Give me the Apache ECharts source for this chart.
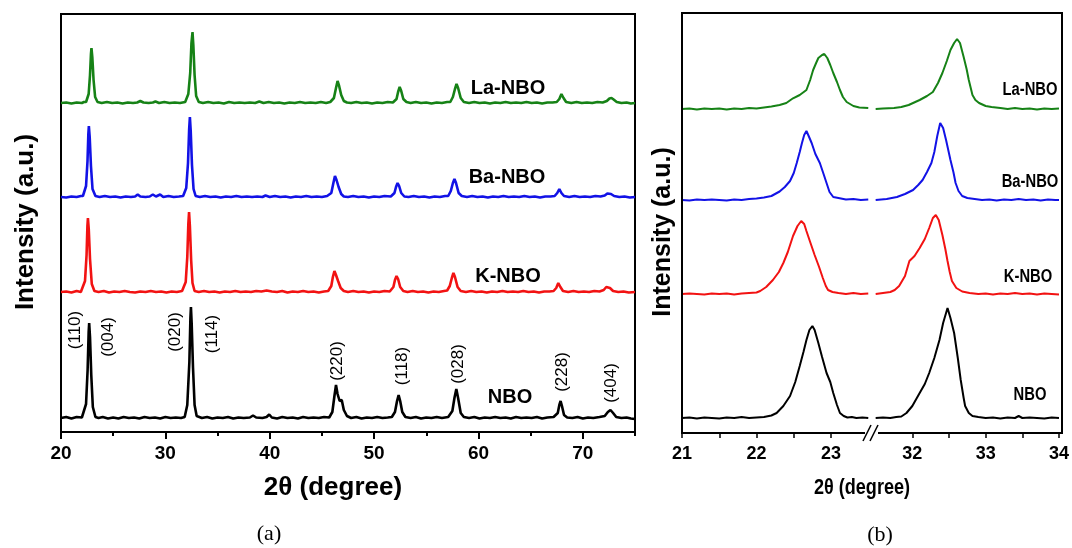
<!DOCTYPE html>
<html>
<head>
<meta charset="utf-8">
<script src="https://cdn.jsdelivr.net/npm/echarts@6/dist/echarts.min.js"></script>
<style>
  html, body { margin: 0; padding: 0; background: #fff; }
  #chart { width: 1072px; height: 548px; }
</style>
</head>
<body>
<div id="chart"></div>
<script>
// sample names, bottom to top
const samples = ['NBO', 'K-NBO', 'Ba-NBO', 'La-NBO'];

// (a) full patterns, intensity above each trace's own baseline, [2θ, I]
const aNBO = [[20,0],[20.5,1],[21,-0.5],[21.5,1],[22,0.5],[22.1,1],[22.4,14],[22.55,48],[22.65,86],[22.7,95],[22.78,81],[22.9,43],[23.05,11],[23.3,1],
  [23.6,0],[24,1],[24.5,-0.5],[25,0.5],[25.5,-0.5],[26,1],[26.5,0],[27,0.5],[27.5,-0.5],[28,1],[28.5,0],[29,0.5],[29.5,-0.5],[30,1],[30.5,0],[31,0.5],[31.5,0],[31.85,1],
  [32.1,13],[32.3,56],[32.4,100],[32.45,111],[32.52,95],[32.65,50],[32.8,13],[33,2],
  [33.5,0],[34,1],[34.5,-0.5],[35,0.5],[35.5,0],[36,1],[36.5,-0.5],[37,0.5],[37.5,0],[38.1,0.5],[38.4,2.5],[38.7,0.5],[39.3,0],[39.7,1],[39.95,3.5],[40.2,0.5],[40.7,-0.5],[41.2,1],[41.7,0],[42.2,0.5],[42.7,-0.5],[43.2,1],[43.7,0],[44.2,0.5],[44.7,0],[45.2,1],[45.7,0.5],
  [46,6],[46.2,22],[46.35,33],[46.5,24],[46.7,17],[46.9,18],[47.1,8],[47.4,2],
  [47.8,0],[48.3,1],[48.8,-0.5],[49.3,0.5],[49.8,0],[50.3,1],[50.8,0],[51.3,0.5],[51.7,1],
  [52,6],[52.2,17],[52.35,23],[52.5,17],[52.7,6],[53,1],
  [53.5,0],[54,1],[54.5,-0.5],[55,0.5],[55.5,0],[56,1],[56.5,0],[57.1,1],
  [57.5,7],[57.7,20],[57.88,29],[58.05,20],[58.3,5],[58.6,1],
  [59.1,0],[59.6,1],[60.1,-0.5],[60.6,0.5],[61.1,0],[61.6,1],[62.1,0],[62.6,0.5],[63.1,-0.5],[63.6,1],[64.1,0],[64.6,0.5],[65.1,0],[65.6,1],[66.1,-0.5],[66.6,0.5],[67.2,1],
  [67.6,5],[67.75,13],[67.87,17],[68,12],[68.2,3],[68.5,0.5],
  [69,0],[69.5,1],[70,-0.5],[70.5,0.5],[71,0],[71.6,1],
  [72.1,2],[72.4,6],[72.65,8],[72.9,5],[73.2,1],
  [73.7,0],[74.2,0.5],[74.6,-0.5],[75,-1]];

const aKNBO = [[20,0],[20.5,0.5],[21,-0.5],[21.5,1],[21.9,0],[22,1],[22.3,11],[22.45,37],[22.53,66],[22.58,74],[22.66,63],[22.78,33],[22.95,8],[23.2,1],
  [23.6,0],[24.1,1],[24.6,-0.5],[25.1,0.5],[25.6,0],[26.1,1],[26.6,0],[27.1,-0.5],[27.6,0.5],[28.1,0],[28.6,1],[29.1,0],[29.6,0.5],[30.1,-0.5],[30.6,0.5],[31.1,0],[31.6,1],
  [31.95,10],[32.1,35],[32.2,68],[32.27,80],[32.35,66],[32.47,32],[32.6,9],[32.8,1],
  [33.2,0],[33.7,1],[34.2,0],[34.7,0.5],[35.2,-0.5],[35.7,0.5],[36.2,0],[36.7,1],[37.2,0],[37.7,0.5],[38.2,0],[38.7,1],[39.2,0.5],[39.7,1.5],[40.2,0.5],[40.7,0],[41.2,1],[41.7,-0.5],[42.2,0.5],[42.7,0],[43.2,1],[43.7,0],[44.2,0.5],[44.7,-0.5],[45.2,0.5],[45.6,1],
  [45.9,6],[46.05,15],[46.2,21],[46.35,17],[46.55,11],[46.8,4],[47.1,1],
  [47.5,0],[48,1],[48.5,0],[49,0.5],[49.5,-0.5],[50,0.5],[50.5,0],[51,1],[51.5,0.5],
  [51.85,5],[52,12],[52.15,16],[52.3,13],[52.5,5],[52.8,1],
  [53.2,0],[53.7,1],[54.2,0],[54.7,0.5],[55.2,-0.5],[55.7,0.5],[56.2,0],[56.7,1],[57,1.5],
  [57.25,6],[57.45,14],[57.6,19],[57.75,15],[58,5],[58.3,1],
  [58.8,0],[59.3,1],[59.8,0],[60.3,0.5],[60.8,-0.5],[61.3,0.5],[61.8,0],[62.3,1],[62.8,0],[63.3,0.5],[63.8,0],[64.3,1],[64.8,0],[65.3,0.5],[65.8,-0.5],[66.3,0.5],[66.8,0.5],[67.2,1],
  [67.45,4],[67.65,9],[67.85,5],[68.1,1],
  [68.6,0],[69.1,1],[69.6,0],[70.1,0.5],[70.6,0],[71.1,1],[71.6,0.5],
  [72,2],[72.25,5],[72.4,6],[72.6,4],[72.9,1],
  [73.4,0],[73.9,0.5],[74.4,-0.5],[75,0]];

const aBaNBO = [[20,0],[20.5,-0.5],[21,0.5],[21.5,0],[21.9,1],[22.1,1],[22.4,11],[22.54,36],[22.62,63],[22.67,71],[22.75,60],[22.87,31],[23.02,8],[23.3,1],
  [23.7,0],[24.2,1],[24.7,0],[25.2,0.5],[25.7,-0.5],[26.2,0.5],[26.7,0],[27.1,0.5],[27.35,2.5],[27.6,0.5],[28.1,0],[28.5,0.5],[28.8,2.5],[29.1,0.5],[29.5,2.5],[29.8,0],[30.3,1],[30.8,0],[31.3,0.5],[31.7,1],
  [32,9],[32.17,34],[32.28,68],[32.35,80],[32.43,66],[32.55,32],[32.7,8],[32.9,1],
  [33.3,0],[33.8,1],[34.3,0],[34.8,0.5],[35.3,-0.5],[35.8,0.5],[36.3,0],[36.8,1],[37.3,0],[37.8,0.5],[38.3,0],[38.8,0.5],[39.3,0],[39.6,1.5],[40,0],[40.5,1],[41,0],[41.5,0.5],[42,-0.5],[42.5,0.5],[43,0],[43.5,1],[44,0],[44.5,0.5],[45,0],[45.5,1],
  [45.9,4],[46.1,14],[46.25,21],[46.4,17],[46.6,10],[46.85,3],[47.1,0.5],
  [47.5,0],[48,1],[48.5,0],[49,0.5],[49.5,-0.5],[50,0.5],[50.5,0],[51,1],[51.6,0.5],
  [51.95,4],[52.1,10],[52.25,14],[52.4,11],[52.6,4],[52.9,0.5],
  [53.3,0],[53.8,1],[54.3,0],[54.8,0.5],[55.3,-0.5],[55.8,0.5],[56.3,0],[56.8,1],[57.1,1],
  [57.35,6],[57.55,14],[57.7,18],[57.85,14],[58.1,4],[58.4,1],
  [58.9,0],[59.4,1],[59.9,0],[60.4,0.5],[60.9,-0.5],[61.4,0.5],[61.9,0],[62.4,1],[62.9,0],[63.4,0.5],[63.9,0],[64.4,1],[64.9,0],[65.4,0.5],[65.9,-0.5],[66.4,0.5],[66.9,0.5],[67.3,1],
  [67.55,4],[67.75,8],[67.95,4],[68.2,1],
  [68.7,0],[69.2,1],[69.7,0],[70.2,0.5],[70.7,0],[71.2,1],[71.7,0.5],
  [72.1,1.5],[72.35,3.5],[72.5,4],[72.7,3],[73,1],
  [73.5,0],[74,0.5],[74.5,-0.5],[75,0]];

const aLaNBO = [[20,0],[20.5,0.5],[21,-0.5],[21.5,0.5],[22,0],[22.2,1],[22.4,1],[22.65,9],[22.78,28],[22.87,49],[22.92,55],[23,46],[23.12,23],[23.27,6],[23.5,1],
  [23.9,0],[24.4,1],[24.9,0],[25.4,0.5],[25.9,-0.5],[26.4,0.5],[26.9,0],[27.3,0.5],[27.6,2],[27.9,0.5],[28.4,0],[28.8,0.5],[29.05,1.5],[29.4,0],[29.9,1],[30.4,0],[30.9,0.5],[31.4,0],[31.9,1],
  [32.2,9],[32.38,30],[32.5,60],[32.6,71],[32.68,58],[32.8,28],[32.95,7],[33.2,1],
  [33.6,0],[34.1,1],[34.6,0],[35.1,0.5],[35.6,-0.5],[36.1,1],[36.6,0],[37.1,0.5],[37.6,0],[38.1,0.5],[38.6,0],[39,1.5],[39.4,0],[39.9,1],[40.4,0],[40.9,0.5],[41.4,-0.5],[41.9,0.5],[42.4,0],[42.9,1],[43.4,0],[43.9,0.5],[44.4,0],[44.9,1],[45.4,0],[45.8,1],
  [46.15,5],[46.35,15],[46.5,22],[46.65,17],[46.85,8],[47.1,2],[47.4,0.5],
  [47.8,0],[48.3,1],[48.8,0],[49.3,0.5],[49.8,-0.5],[50.3,0.5],[50.8,0],[51.3,1],[51.8,0.5],
  [52.15,4],[52.3,11],[52.45,16],[52.6,12],[52.8,4],[53.1,1],
  [53.5,0],[54,1],[54.5,0],[55,0.5],[55.5,-0.5],[56,0.5],[56.5,0],[57,1],[57.3,1],
  [57.55,6],[57.75,14],[57.9,19],[58.05,15],[58.3,5],[58.6,1],
  [59.1,0],[59.6,1],[60.1,0],[60.6,0.5],[61.1,-0.5],[61.6,0.5],[62.1,0],[62.6,1],[63.1,0],[63.6,0.5],[64.1,0],[64.6,1],[65.1,0],[65.6,0.5],[66.1,-0.5],[66.6,0.5],[67.1,0.5],[67.5,1],
  [67.75,4],[67.95,9],[68.15,5],[68.4,1],
  [68.9,0],[69.4,1],[69.9,0],[70.4,0.5],[70.9,0],[71.4,1],[71.9,0.5],
  [72.3,2],[72.55,4.5],[72.75,5],[72.95,3.5],[73.25,1],
  [73.7,0],[74.2,0.5],[74.6,-0.5],[75,0]];

// (b) zoom on the two main reflections
const bNBO = [[21,0],[21.1,0.5],[21.2,-0.5],[21.3,0.5],[21.4,0],[21.5,-0.5],[21.6,0.5],[21.7,0],[21.8,1],[21.9,0],[22,0.5],[22.1,1],[22.2,2.5],[22.27,5],[22.36,12],[22.45,22],[22.52,36],[22.58,52],[22.63,66],[22.67,78],[22.71,88],[22.75,92],[22.78,88],[22.83,75],[22.88,61],[22.94,45],[22.99,36],[23.03,25],[23.08,13],[23.12,5],[23.17,2],[23.22,0.5],[23.28,1],[23.34,0],[23.42,0.5],[23.5,0],
  [31.5,0],[31.6,0.5],[31.7,0],[31.78,1],[31.85,1.5],[31.92,5],[32,12],[32.1,25],[32.17,34],[32.23,45],[32.3,60],[32.37,78],[32.42,95],[32.48,110],[32.52,100],[32.57,85],[32.62,60],[32.66,38],[32.7,20],[32.72,12],[32.77,5],[32.82,2],[32.9,1],[33,0],[33.1,0.5],[33.2,-0.5],[33.3,0.5],[33.4,0],[33.45,2],[33.5,0],[33.6,0.5],[33.7,0],[33.8,-0.5],[33.9,0.5],[34,0]];

const bKNBO = [[21,0],[21.1,0.5],[21.2,0],[21.3,-0.5],[21.4,0.5],[21.5,0],[21.6,0.5],[21.7,-0.5],[21.8,0.5],[21.9,1],[22,1.5],[22.05,3],[22.13,7],[22.22,14],[22.3,22],[22.36,31],[22.42,42],[22.49,58],[22.55,68],[22.6,73],[22.64,70],[22.67,63],[22.72,52],[22.78,39],[22.84,27],[22.89,16],[22.93,8],[22.96,4],[23.02,2],[23.1,1],[23.2,0],[23.3,1],[23.4,0],[23.5,0.5],
  [31.5,0],[31.6,1],[31.7,2],[31.76,4],[31.82,8],[31.9,18],[31.96,33],[32.03,38],[32.1,46],[32.17,55],[32.23,66],[32.28,76],[32.32,79],[32.36,74],[32.41,59],[32.45,45],[32.48,33],[32.51,22],[32.54,13],[32.6,6],[32.68,2.5],[32.78,1],[32.9,0],[33,0.5],[33.1,-0.5],[33.2,0.5],[33.3,0],[33.4,1],[33.5,0],[33.6,0.5],[33.7,-0.5],[33.8,0.5],[33.9,0],[34,-0.5]];

const bBaNBO = [[21,0],[21.1,-0.5],[21.2,0.5],[21.3,0],[21.4,0.5],[21.5,0],[21.6,-0.5],[21.7,0.5],[21.8,0],[21.9,1],[22,1.5],[22.1,2.5],[22.2,4],[22.31,8.5],[22.38,13],[22.45,19],[22.5,27],[22.54,37],[22.58,48],[22.61,57],[22.64,65],[22.67,69],[22.7,64],[22.74,57],[22.79,46],[22.85,37],[22.9,26],[22.94,17],[22.98,8],[23.03,3],[23.1,2],[23.2,0.5],[23.3,1],[23.4,0],[23.5,0.5],
  [31.5,0],[31.65,1],[31.79,3],[31.9,6],[32.01,10],[32.08,15],[32.14,20],[32.2,28],[32.26,37],[32.3,48],[32.34,64],[32.38,77],[32.42,72],[32.46,60],[32.49,50],[32.52,40],[32.56,28],[32.59,17],[32.63,9],[32.68,4],[32.75,2],[32.85,1],[32.95,0],[33.05,0.5],[33.15,-0.5],[33.25,0.5],[33.35,0],[33.45,1],[33.55,0],[33.65,0.5],[33.75,-0.5],[33.85,0.5],[33.95,0],[34,0]];

const bLaNBO = [[21,0],[21.1,0.5],[21.2,-0.5],[21.3,0.5],[21.4,0],[21.5,0.5],[21.6,-0.5],[21.7,0.5],[21.8,0],[21.9,1],[22,0.5],[22.1,1.5],[22.2,2.5],[22.31,4],[22.4,6],[22.49,10.7],[22.58,14],[22.67,19],[22.72,29],[22.76,39],[22.8,46],[22.83,51],[22.88,54],[22.91,55],[22.95,51],[22.99,44],[23.03,36],[23.08,27],[23.12,19],[23.16,12],[23.21,7],[23.3,3],[23.38,1.5],[23.5,1],
  [31.5,0],[31.6,0.5],[31.75,1],[31.85,2],[31.95,4],[32.01,6],[32.1,9],[32.2,13],[32.28,17],[32.35,26],[32.41,36],[32.47,48],[32.52,59],[32.57,66],[32.61,70],[32.65,66],[32.7,52],[32.74,40],[32.77,29],[32.8,20],[32.82,14],[32.86,9],[32.91,6],[33,3],[33.08,2],[33.2,1],[33.3,0],[33.4,1],[33.5,0],[33.6,0.5],[33.7,-0.5],[33.8,0.5],[33.9,0],[34,0.5]];

// vertical stacking offsets of each trace (bottom to top)
const offsetsA = [14, 140, 235, 329];
const offsetsB = [15, 139, 233, 324];

// ticks
const majorTicksA = [20, 30, 40, 50, 60, 70];
const minorTicksA = [25, 35, 45, 55, 65, 75];
const labelsBLeft = [21, 22, 23];
const ticksBLeft = [21, 21.5, 22, 22.5, 23];
const labelsBRight = [32, 33, 34];
const ticksBRight = [32, 32.5, 33, 33.5, 34];

// Miller indices marked on the NBO pattern
const hklNames = ['(110)', '(004)', '(020)', '(114)', '(220)', '(118)', '(028)', '(228)', '(404)'];

const colors = ['#000000', '#f21212', '#1212e6', '#168216'];
const SANS = '"Liberation Sans", Arial, sans-serif';
const NARROW = '"Liberation Sans Narrow", "Arial Narrow", "Liberation Sans", sans-serif';

const tracesA = [aNBO, aKNBO, aBaNBO, aLaNBO];
const tracesB = [bNBO, bKNBO, bBaNBO, bLaNBO];

const chart = echarts.init(document.getElementById('chart'), null, { renderer: 'canvas' });

const series = [];
tracesA.forEach((t, i) => {
  series.push({
    type: 'line', xAxisIndex: 0, yAxisIndex: 0, showSymbol: false, silent: true,
    lineStyle: { color: colors[i], width: 2.6 },
    data: t.map(p => [p[0], p[1] + offsetsA[i]])
  });
});
tracesB.forEach((t, i) => {
  series.push({
    type: 'line', xAxisIndex: 2, yAxisIndex: 1, showSymbol: false, silent: true,
    lineStyle: { color: colors[i], width: 2 },
    data: t.filter(p => p[0] < 28).map(p => [p[0], p[1] + offsetsB[i]])
  });
  series.push({
    type: 'line', xAxisIndex: 3, yAxisIndex: 2, showSymbol: false, silent: true,
    lineStyle: { color: colors[i], width: 2 },
    data: t.filter(p => p[0] > 28).map(p => [p[0], p[1] + offsetsB[i]])
  });
});

function txt(text, x, y, font, opts) {
  return Object.assign({
    type: 'text', x: x, y: y, z: 20,
    style: { text: text, font: font, fill: '#000', align: 'center', verticalAlign: 'middle' }
  }, opts || {});
}

const hklPos = [[75, 330], [108, 337], [175, 332], [212, 334], [337, 361], [402, 366], [458, 364], [562, 372], [611, 383]];

const graphic = [
  // panel b frame, axis break
  { type: 'rect', z: 10, shape: { x: 682, y: 13, width: 380, height: 420 }, style: { fill: 'none', stroke: '#000', lineWidth: 2 } },
  { type: 'rect', z: 11, shape: { x: 865, y: 428, width: 13, height: 10 }, style: { fill: '#fff' } },
  { type: 'line', z: 12, shape: { x1: 863, y1: 441, x2: 871, y2: 425 }, style: { stroke: '#000', lineWidth: 1.5 } },
  { type: 'line', z: 12, shape: { x1: 870, y1: 441, x2: 878, y2: 425 }, style: { stroke: '#000', lineWidth: 1.5 } },

  txt('Intensity (a.u.)', 26, 222, 'bold 26px ' + SANS, { rotation: Math.PI / 2 }),
  txt('2θ (degree)', 333, 488, 'bold 26px ' + SANS),
  txt('(a)', 269, 534, '22px "Liberation Serif", "Times New Roman", serif'),
  txt('La-NBO', 508, 88, 'bold 20px ' + SANS),
  txt('Ba-NBO', 507, 177, 'bold 20px ' + SANS),
  txt('K-NBO', 508, 276, 'bold 20px ' + SANS),
  txt('NBO', 510, 397, 'bold 20px ' + SANS),

  txt('Intensity (a.u.)', 663, 232, 'bold 25px ' + SANS, { rotation: Math.PI / 2 }),
  txt('2θ (degree)', 862, 488, 'bold 22px ' + SANS, { scaleX: 0.82 }),
  txt('(b)', 880, 535, '22px "Liberation Serif", "Times New Roman", serif'),
  txt('La-NBO', 1030, 90, 'bold 18px ' + SANS, { scaleX: 0.82 }),
  txt('Ba-NBO', 1030, 182, 'bold 18px ' + SANS, { scaleX: 0.82 }),
  txt('K-NBO', 1028, 277, 'bold 18px ' + SANS, { scaleX: 0.82 }),
  txt('NBO', 1030, 395, 'bold 18px ' + SANS, { scaleX: 0.82 })
];
hklNames.forEach((n, i) => {
  graphic.push(txt(n, hklPos[i][0], hklPos[i][1], '17px ' + SANS, { rotation: Math.PI / 2 }));
});

const hiddenY = {
  type: 'value', min: 0, axisLine: { show: false }, axisTick: { show: false },
  axisLabel: { show: false }, splitLine: { show: false }
};

const option = {
  animation: false,
  backgroundColor: '#fff',
  grid: [
    { left: 61, top: 14, width: 574, height: 418, show: true, borderColor: '#000', borderWidth: 2, backgroundColor: 'transparent' },
    { left: 682, top: 13, width: 190, height: 420 },
    { left: 872, top: 13, width: 190, height: 420 }
  ],
  xAxis: [
    {
      type: 'value', gridIndex: 0, min: 20, max: 75, position: 'bottom',
      axisLine: { show: true, onZero: false, lineStyle: { color: '#000', width: 2 } },
      axisTick: { show: true, customValues: majorTicksA, length: 7, lineStyle: { color: '#000', width: 2 } },
      axisLabel: { customValues: majorTicksA, margin: 12, color: '#000', fontSize: 19, fontWeight: 'bold', fontFamily: SANS },
      splitLine: { show: false }
    },
    {
      type: 'value', gridIndex: 0, min: 20, max: 75, position: 'bottom',
      axisLine: { show: false, onZero: false },
      axisTick: { show: true, customValues: minorTicksA, length: 4, lineStyle: { color: '#000', width: 2 } },
      axisLabel: { show: false }, splitLine: { show: false }
    },
    {
      type: 'value', gridIndex: 1, min: 21, max: 23.55, position: 'bottom',
      axisLine: { show: false, onZero: false },
      axisTick: { show: true, customValues: ticksBLeft, length: 5, lineStyle: { color: '#000', width: 1.5 } },
      axisLabel: { customValues: labelsBLeft, margin: 12, color: '#000', fontSize: 18, fontWeight: 'bold', fontFamily: NARROW },
      splitLine: { show: false }
    },
    {
      type: 'value', gridIndex: 2, min: 31.45, max: 34, position: 'bottom',
      axisLine: { show: false, onZero: false },
      axisTick: { show: true, customValues: ticksBRight, length: 5, lineStyle: { color: '#000', width: 1.5 } },
      axisLabel: { customValues: labelsBRight, margin: 12, color: '#000', fontSize: 18, fontWeight: 'bold', fontFamily: NARROW },
      splitLine: { show: false }
    }
  ],
  yAxis: [
    Object.assign({ gridIndex: 0, max: 418 }, hiddenY),
    Object.assign({ gridIndex: 1, max: 420 }, hiddenY),
    Object.assign({ gridIndex: 2, max: 420 }, hiddenY)
  ],
  graphic: graphic,
  series: series
};

chart.setOption(option);
</script>
</body>
</html>
